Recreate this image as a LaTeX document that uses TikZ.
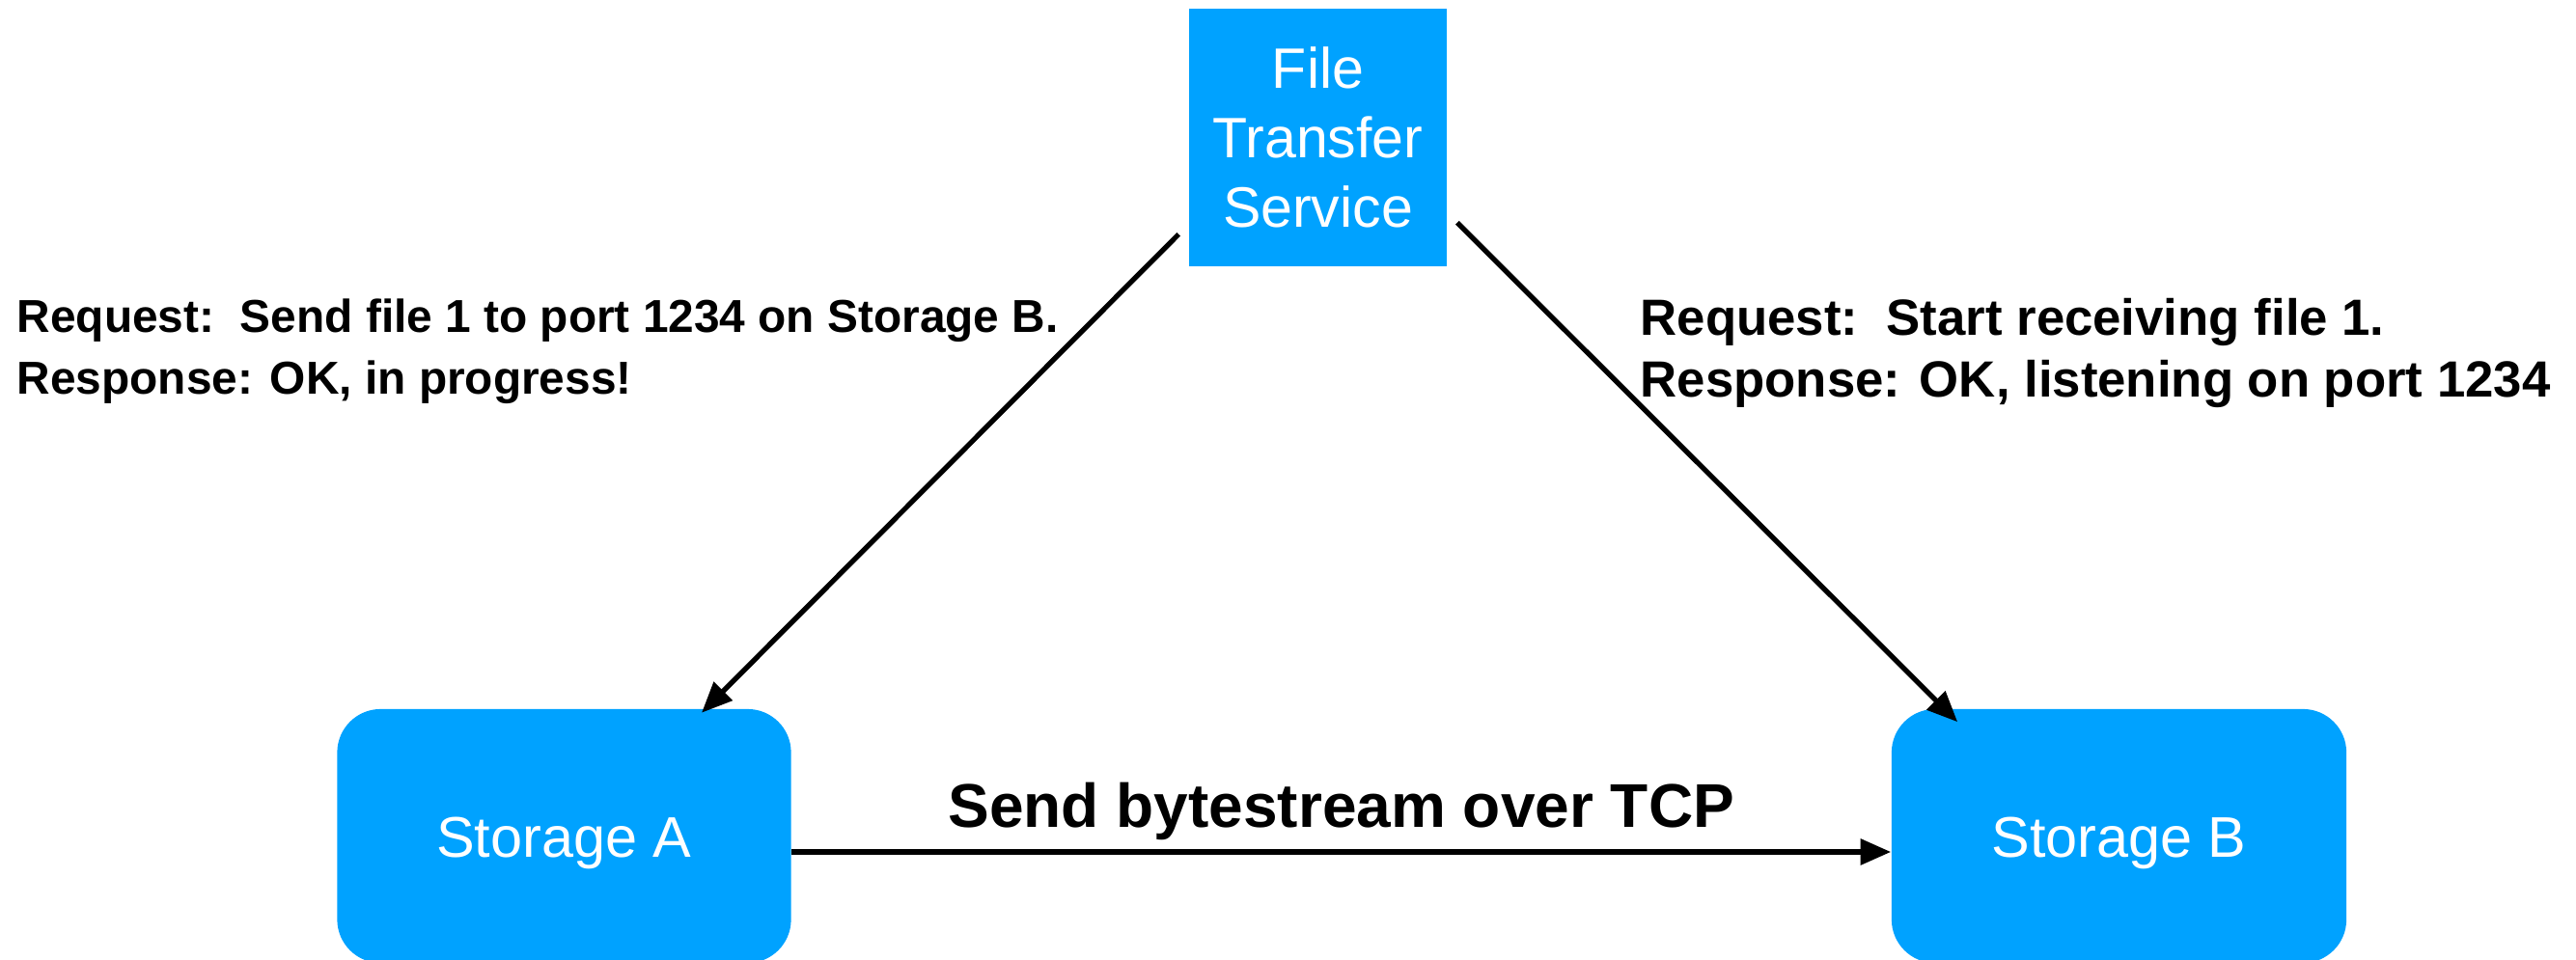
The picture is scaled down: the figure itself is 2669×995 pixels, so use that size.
\documentclass[tikz,border=0pt]{standalone}
\usepackage{fontspec}
\setmainfont{Liberation Sans}
\usetikzlibrary{arrows.meta}
\definecolor{boxblue}{RGB}{0,162,255}
\begin{document}
\begin{tikzpicture}[x=0.01cm,y=-0.01cm,
  bluebox/.style={fill=boxblue, draw=none, text=white, inner sep=0pt, align=center},
  storebox/.style={bluebox, rounded corners=0.45cm, minimum width=4.70cm, minimum height=2.63cm,
    text height=16pt, text depth=3.6pt,
    font=\fontsize{16.9pt}{20pt}\selectfont},
  conn/.style={line width=1.5pt, -{Triangle[length=9pt,width=7.5pt]}},
  lblA/.style={inner sep=0pt, anchor=base west, font=\bfseries\fontsize{13.6pt}{18pt}\selectfont},
  lblB/.style={inner sep=0pt, anchor=base west, font=\bfseries\fontsize{15pt}{18pt}\selectfont},
  tcplbl/.style={inner sep=0pt, anchor=base, font=\bfseries\fontsize{18.2pt}{22pt}\selectfont}]
\useasboundingbox (0,0) rectangle (2669,995);
\fill[white] (0,0) rectangle (2669,995);

\node[bluebox, minimum width=2.67cm, minimum height=2.67cm,
  font=\fontsize{16.8pt}{20.5pt}\selectfont] (fts) at (1365.5,142.5) {File\\Transfer\\Service};

\node[storebox] (A) at (584.5,866.5) {Storage A};
\node[storebox, minimum width=4.71cm] (B) at (2195.5,866.5) {Storage B};

\draw[conn] ([shift={(-10,-34)}]fts.south west) -- ([shift={(142.5,4.5)}]A.north);
\draw[conn] ([shift={(10,-46)}]fts.south east) -- ([shift={(69,14)}]B.north west);
\draw[conn] ([shift={(0,16.5)}]A.east) -- node[tcplbl, midway, shift={(0,-25)}] (tcp) {Send bytestream over TCP} ([shift={(0,16.5)}]B.west);

\node[lblA] (reqA1) at (17,345) {Request:\ \ Send file 1 to port 1234 on Storage B.};
\node[lblA] (resA1) at (17,409) {Response: OK, in progress!};
\node[lblB] (reqB1) at (1699,348) {Request:\ \ Start receiving file 1.};
\node[lblB] (resB1) at (1699,412) {Response: OK, listening on port 1234};
\end{tikzpicture}
\end{document}
